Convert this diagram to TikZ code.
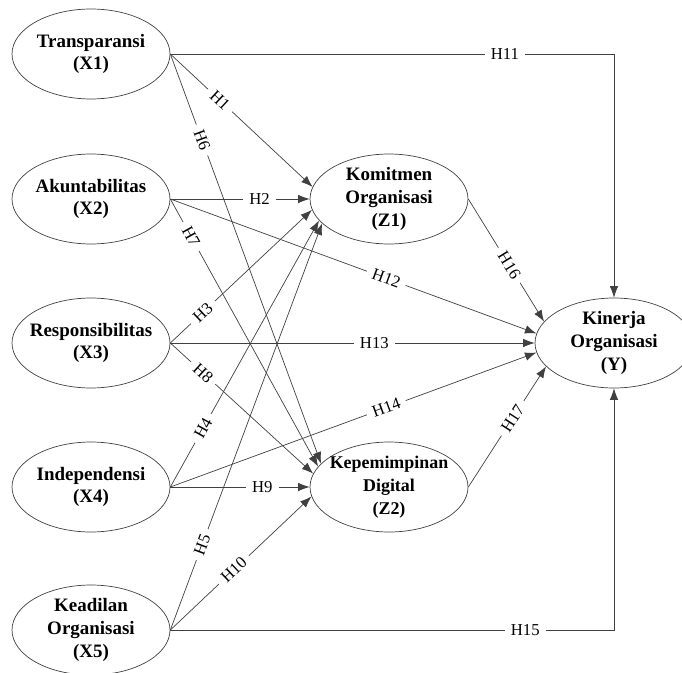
\documentclass[tikz,border=0pt]{standalone}
\usepackage{fontspec}
\setmainfont{Liberation Serif}
\usetikzlibrary{shapes.geometric,arrows.meta}
\tikzset{
  construct/.style={
    ellipse,
    draw=black!75,
    minimum width=3.16cm,
    minimum height=1.8cm,
    inner sep=0pt
  },
  construct label/.style={font=\fontsize{10.8}{13}\selectfont\bfseries,align=center},
  hyp path/.style={draw=black!75,-{Latex[length=2.3mm,width=1.7mm]}},
  hyp/.style={fill=white,inner xsep=3.5pt,inner ysep=1pt,font=\fontsize{9.5}{10}\selectfont}
}

\begin{document}
\begin{tikzpicture}[x=0.02cm,y=-0.02cm]
  \useasboundingbox (0,0) rectangle (682,672);

  \node (x1) [construct] at (91,54) {};
  \node (x1_label) [construct label] at (x1) {Transparansi\\(X1)};
  \node (x2) [construct] at (91,199) {};
  \node (x2_label) [construct label] at (x2) {Akuntabilitas\\(X2)};
  \node (x3) [construct] at (91,343) {};
  \node (x3_label) [construct label] at (x3) {Responsibilitas\\(X3)};
  \node (x4) [construct] at (91,487) {};
  \node (x4_label) [construct label] at (x4) {Independensi\\(X4)};
  \node (x5) [construct] at (91,630) {};
  \node (x5_label) [construct label] at (x5) {Keadilan\\Organisasi\\(X5)};

  \node (z1) [construct] at (389,199) {};
  \node (z1_label) [construct label] at (z1) {Komitmen\\Organisasi\\(Z1)};
  \node (z2) [construct] at (389,487) {};
  \node (z2_label) [construct label,font=\fontsize{10.2}{13}\selectfont\bfseries] at (z2) {Kepemimpinan\\Digital\\(Z2)};

  \node (y) [construct] at (614,343) {};
  \node (y_label) [construct label] at (y) {Kinerja\\Organisasi\\(Y)};

  % paths to Z1
  \draw[hyp path] (x1.east) -- node[hyp,sloped,pos=.35] {H1} (z1.171);
  \draw[hyp path] (x2.east) -- node[hyp,pos=.64] {H2} (z1.west);
  \draw[hyp path] (x3.east) -- node[hyp,sloped,pos=.23] {H3} (z1.188);
  \draw[hyp path] (x4.east) -- node[hyp,sloped,pos=.22] {H4} (z1.197);
  \draw[hyp path] (x5.east) -- node[hyp,sloped,pos=.21] {H5} (z1.200);

  % paths to Z2
  \draw[hyp path] (x1.east) -- node[hyp,sloped,pos=.21] {H6} (z2.161);
  \draw[hyp path] (x2.east) -- node[hyp,sloped,pos=.14] {H7} (z2.164);
  \draw[hyp path] (x3.east) -- node[hyp,sloped,pos=.23] {H8} (z2.170);
  \draw[hyp path] (x4.east) -- node[hyp,pos=.66] {H9} (z2.west);
  \draw[hyp path] (x5.east) -- node[hyp,sloped,pos=.45] {H10} (z2.187);

  % paths to Y
  \draw[hyp path] (x1.east) -- node[hyp,pos=.754] {H11} (x1.east -| y.north) -- (y.north);
  \draw[hyp path] (x2.east) -- node[hyp,sloped,pos=.59] {H12} (y.173);
  \draw[hyp path] (x3.east) -- node[hyp,pos=.56] {H13} (y.west);
  \draw[hyp path] (x4.east) -- node[hyp,sloped,pos=.59] {H14} (y.187);
  \draw[hyp path] (x5.east) -- node[hyp,pos=.8] {H15} (x5.east -| y.south) -- (y.south);
  \draw[hyp path] (z1.east) -- node[hyp,sloped,pos=.54] {H16} (y.163);
  \draw[hyp path] (z2.east) -- node[hyp,sloped,pos=.57] {H17} (y.199);

\end{tikzpicture}
\end{document}
